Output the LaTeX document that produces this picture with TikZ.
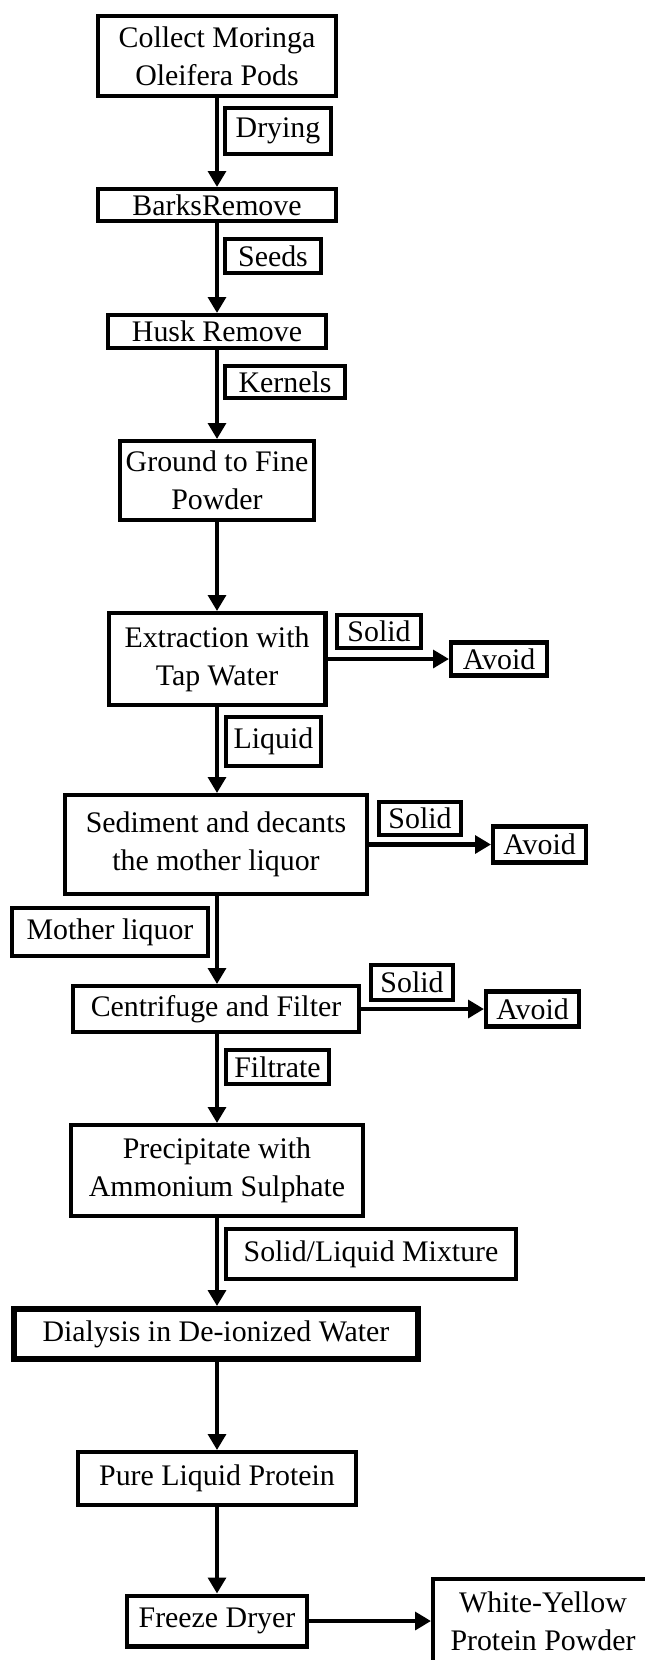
\documentclass[tikz,border=0pt]{standalone}
\usepackage{fontspec}
\setmainfont{Liberation Serif}
\usetikzlibrary{arrows.meta}

\begin{document}
\begin{tikzpicture}[x=0.02cm, y=-0.02cm,
    stepbox/.style={draw, line width=2.3pt, align=center, inner sep=1pt,
        font=\fontsize{17}{21.5}\selectfont},
    flow/.style={line width=2.3pt, -{Triangle[length=9pt,width=10pt]}}]
    \useasboundingbox (0,0) rectangle (645,1660);
    \clip (0,0) rectangle (645,1660);

    % Main column of process steps
    \node[stepbox, minimum width=4.76cm, minimum height=1.6cm] (collect) at (217,56) {Collect Moringa\\Oleifera Pods};
    \node[stepbox, minimum width=4.76cm, minimum height=0.64cm] (barks) at (217,205) {BarksRemove};
    \node[stepbox, minimum width=4.36cm, minimum height=0.66cm] (husk) at (217,331.5) {Husk Remove};
    \node[stepbox, minimum width=3.88cm, minimum height=1.58cm] (ground) at (217,480.5) {Ground to Fine\\Powder};
    \node[stepbox, minimum width=4.34cm, minimum height=1.84cm] (extract) at (217,659) {Extraction with\\Tap Water};
    \node[stepbox, minimum width=6.04cm, minimum height=1.98cm] (sediment) at (216,844.5) {Sediment and decants\\the mother liquor};
    \node[stepbox, minimum width=5.72cm, minimum height=0.92cm] (centri) at (216,1009) {Centrifuge and Filter};
    \node[stepbox, minimum width=5.86cm, minimum height=1.82cm] (precip) at (217,1170.5) {Precipitate with\\Ammonium Sulphate};
    \node[stepbox, line width=3.4pt, minimum width=8.1cm, minimum height=1.0cm] (dialysis) at (216,1334) {Dialysis in De-ionized Water};
    \node[stepbox, minimum width=5.56cm, minimum height=1.06cm] (pure) at (217,1478.5) {Pure Liquid Protein};
    \node[stepbox, minimum width=3.6cm, minimum height=1.02cm] (freeze) at (217,1621) {Freeze Dryer};
    \node[stepbox, minimum width=4.4cm, minimum height=1.7cm] (powder) at (543,1621) {White-Yellow\\Protein Powder};

    % Labels beside the down arrows
    \node[stepbox, minimum width=2.12cm, minimum height=0.92cm] (drying) at (278,131) {Drying};
    \node[stepbox, minimum width=1.92cm, minimum height=0.68cm] (seeds) at (273,256) {Seeds};
    \node[stepbox, minimum width=2.4cm, minimum height=0.64cm] (kernels) at (285,382) {Kernels};
    \node[stepbox, minimum width=1.9cm, minimum height=0.98cm] (liquid) at (273.5,741.5) {Liquid};
    \node[stepbox, minimum width=3.92cm, minimum height=0.96cm] (mother) at (110,932) {Mother liquor};
    \node[stepbox, minimum width=2.06cm, minimum height=0.68cm] (filtrate) at (277.5,1067) {Filtrate};
    \node[stepbox, minimum width=5.8cm, minimum height=1.0cm] (mixture) at (371,1254) {Solid/Liquid Mixture};

    % Solid side streams
    \node[stepbox, minimum width=1.68cm, minimum height=0.66cm] (solidA) at (379,631.5) {Solid};
    \node[stepbox, minimum width=1.92cm, minimum height=0.66cm] (avoidA) at (499,659) {Avoid};
    \node[stepbox, minimum width=1.64cm, minimum height=0.66cm] (solidB) at (420,818.5) {Solid};
    \node[stepbox, minimum width=1.86cm, minimum height=0.72cm] (avoidB) at (539.5,844.5) {Avoid};
    \node[stepbox, minimum width=1.64cm, minimum height=0.7cm] (solidC) at (412,982.5) {Solid};
    \node[stepbox, minimum width=1.86cm, minimum height=0.7cm] (avoidC) at (532.5,1009) {Avoid};

    % Arrows
    \draw[flow] (collect) -- (barks);
    \draw[flow] (barks) -- (husk);
    \draw[flow] (husk) -- (ground);
    \draw[flow] (ground) -- (extract);
    \draw[flow] (extract.south) -- (sediment.north -| extract.south);
    \draw[flow] (sediment.south -| extract.south) -- (centri.north -| extract.south);
    \draw[flow] (centri.south -| extract.south) -- (precip);
    \draw[flow] (precip) -- (dialysis.north -| precip.south);
    \draw[flow] (dialysis.south -| precip.south) -- (pure);
    \draw[flow] (pure) -- (freeze);
    \draw[flow] (freeze) -- (powder);
    \draw[flow] (extract) -- (avoidA);
    \draw[flow] (sediment) -- (avoidB);
    \draw[flow] (centri) -- (avoidC);
\end{tikzpicture}
\end{document}
